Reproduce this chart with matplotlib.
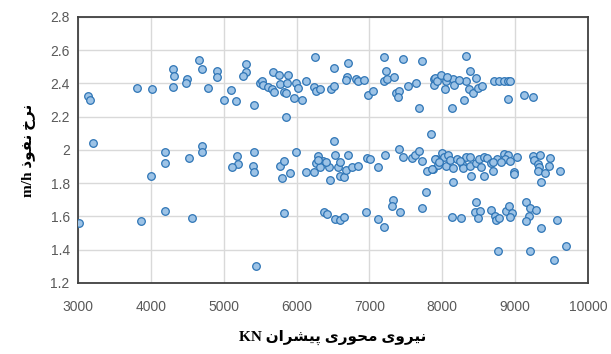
import matplotlib
matplotlib.use("Agg")
import matplotlib.pyplot as plt

# thrust force (KN) vs penetration rate (m/h)
thrust = [
    # upper band
    3142, 3165, 3815, 4012, 4305, 4319, 4305, 4493, 4488, 4658, 4704, 4782, 4905, 4905,
    4997, 5098, 5167, 5304, 5308, 5263, 5409, 5500, 5519, 5537, 5611, 5675, 5666, 5684,
    5758, 5776, 5821, 5849, 5885, 5867, 5958, 5986, 6013, 6068, 6133, 6252, 6243, 6270,
    6325, 6472, 6517, 6517, 6710, 6692, 6683, 6820, 6847, 6930, 6975, 7048, 7205, 7232,
    7195, 7241, 7342, 7360, 7406, 7397, 7461, 7534, 7635, 7681, 7717, 7891, 7882, 5858,
    7900, 7928, 7983, 8046, 8037, 8147, 8156, 8129, 8321, 8386, 8331, 8459, 8367, 8422,
    8496, 8542, 8303, 8711, 8780, 8844, 8899, 8927, 8899, 9128, 9238, 8230, 8060,
    # middle band
    3206, 4200, 4200, 4007, 4530, 4704, 4704, 5180, 5189, 5116, 5409, 5400, 5409,
    5776, 5821, 5803, 5903, 5995, 6133, 6234, 6289, 6270, 6361, 6325, 6445, 6453, 6508,
    6526, 6563, 6590, 6600, 6655, 6683, 6710, 6765, 6838, 6966, 7003, 7113, 7214, 7406,
    7461, 7580, 7626, 7681, 7717, 7845, 7790, 7872, 7918, 7946, 7900, 7854, 8001, 8029,
    8056, 8084, 8102, 8147, 8147, 8202, 8266, 8285, 8321, 8386, 8386, 8395, 8459, 8505,
    8533, 8569, 8569, 8615, 8670, 8697, 8752, 8853, 8899, 8862, 8981, 8990, 9027, 9238,
    9265, 9338, 9311, 9329, 9311, 9403, 9348, 9475, 9458, 9622, 6300, 6400, 7960, 8240,
    8700, 8800, 8930,
    # lower band
    3009, 3861, 4200, 4566, 5446, 5830, 6380, 6416, 6526, 6590, 6645, 6947, 7122, 7195,
    7324, 7305, 7424, 7717, 7781, 8129, 8258, 8459, 8450, 8523, 8487, 8670, 8725, 8743,
    8780, 8871, 8917, 8963, 8927, 9155, 9210, 9283, 9183, 9146, 9348, 9577, 8771, 9201,
    9695, 9531,
]
rate = [
    # upper band
    2.326, 2.300, 2.370, 2.368, 2.490, 2.445, 2.380, 2.430, 2.400, 2.543, 2.490, 2.370, 2.477, 2.440,
    2.300, 2.360, 2.296, 2.520, 2.470, 2.445, 2.268, 2.400, 2.413, 2.389, 2.376, 2.469, 2.364, 2.348,
    2.449, 2.396, 2.348, 2.344, 2.449, 2.400, 2.312, 2.404, 2.372, 2.300, 2.413, 2.557, 2.376, 2.356,
    2.364, 2.364, 2.493, 2.384, 2.525, 2.437, 2.420, 2.425, 2.416, 2.420, 2.332, 2.352, 2.557, 2.473,
    2.416, 2.428, 2.440, 2.344, 2.356, 2.316, 2.549, 2.384, 2.404, 2.252, 2.533, 2.428, 2.389, 2.200,
    2.433, 2.413, 2.449, 2.413, 2.364, 2.425, 2.389, 2.252, 2.565, 2.473, 2.413, 2.433, 2.368, 2.344,
    2.370, 2.384, 2.300, 2.416, 2.413, 2.413, 2.416, 2.416, 2.308, 2.328, 2.316, 2.420, 2.440,
    # middle band
    2.040, 1.987, 1.920, 1.844, 1.950, 2.023, 1.985, 1.963, 1.916, 1.898, 1.985, 1.906, 1.868,
    1.906, 1.931, 1.830, 1.862, 1.987, 1.866, 1.866, 1.963, 1.919, 1.931, 1.898, 1.898, 1.818, 2.055,
    1.970, 1.898, 1.927, 1.846, 1.838, 1.878, 1.967, 1.898, 1.906, 1.950, 1.943, 1.898, 1.967, 2.007,
    1.958, 1.950, 1.970, 1.995, 1.934, 2.095, 1.874, 1.886, 1.943, 1.910, 1.947, 1.886, 1.979, 1.958,
    1.902, 1.967, 1.939, 1.894, 1.810, 1.947, 1.914, 1.890, 1.955, 1.958, 1.902, 1.842, 1.919, 1.947,
    1.898, 1.846, 1.955, 1.950, 1.919, 1.874, 1.943, 1.975, 1.967, 1.947, 1.866, 1.854, 1.955, 1.963,
    1.939, 1.967, 1.914, 1.898, 1.874, 1.862, 1.810, 1.950, 1.902, 1.874, 1.940, 1.925, 1.930, 1.935,
    1.930, 1.925, 1.935,
    # lower band
    1.561, 1.571, 1.631, 1.593, 1.304, 1.621, 1.625, 1.613, 1.585, 1.577, 1.597, 1.625, 1.585, 1.537,
    1.702, 1.666, 1.630, 1.654, 1.746, 1.597, 1.593, 1.686, 1.625, 1.633, 1.593, 1.642, 1.605, 1.577,
    1.593, 1.633, 1.666, 1.621, 1.597, 1.686, 1.649, 1.642, 1.605, 1.573, 1.533, 1.577, 1.392, 1.392,
    1.425, 1.336,
]

x_ticks = [3000, 4000, 5000, 6000, 7000, 8000, 9000, 10000]
y_ticks = [1.2, 1.4, 1.6, 1.8, 2, 2.2, 2.4, 2.6, 2.8]

# Persian labels written with presentation forms in visual (left-to-right) order
x_glyphs = ['\uFEE7', '\uFEF4', '\uFEAE', '\uFEED', '\uFEEF', ' ',
            '\uFEE3', '\uFEA4', '\uFEEE', '\uFEAD', '\uFEEF', ' ',
            '\uFB58', '\uFEF4', '\uFEB8', '\uFEAE', '\uFE8D', '\uFEE5']
y_glyphs = ['\uFEE7', '\uFEAE', '\uFEA5', ' ',
            '\uFEE7', '\uFED4', '\uFEEE', '\uFEAB']
x_title = 'KN ' + ''.join(reversed(x_glyphs))
y_title = 'm/h ' + ''.join(reversed(y_glyphs))

fig = plt.figure(figsize=(6.11, 3.54), dpi=100)
ax = fig.add_axes([0.1277, 0.2006, 0.8347, 0.7514])

ax.scatter(thrust, rate, s=30, facecolor='#9dc3e6', edgecolor='#2e75b6',
           linewidth=0.9, zorder=3)

ax.set_xlim(3000, 10000)
ax.set_ylim(1.2, 2.8)
ax.set_xticks(x_ticks)
ax.set_yticks(y_ticks)
ax.set_xticklabels([str(v) for v in x_ticks])
ax.set_yticklabels(['{:g}'.format(v) for v in y_ticks])
ax.tick_params(length=0, labelsize=10, labelcolor='#595959', pad=6)
ax.tick_params(axis='x', pad=12)
for lbl in ax.get_xticklabels() + ax.get_yticklabels():
    lbl.set_family('Liberation Sans')

ax.grid(True, color='#d9d9d9', linewidth=1, zorder=0)
ax.set_axisbelow(True)
for sp in ax.spines.values():
    sp.set_color('#404040')
    sp.set_linewidth(1.3)

fam = ['Liberation Serif', 'DejaVu Sans']
ax.set_xlabel(x_title, family=fam, fontweight='bold', fontsize=11, labelpad=12)
ax.set_ylabel(y_title, family=fam, fontweight='bold', fontsize=11, labelpad=10)

fig.savefig('out.png', dpi=100)
